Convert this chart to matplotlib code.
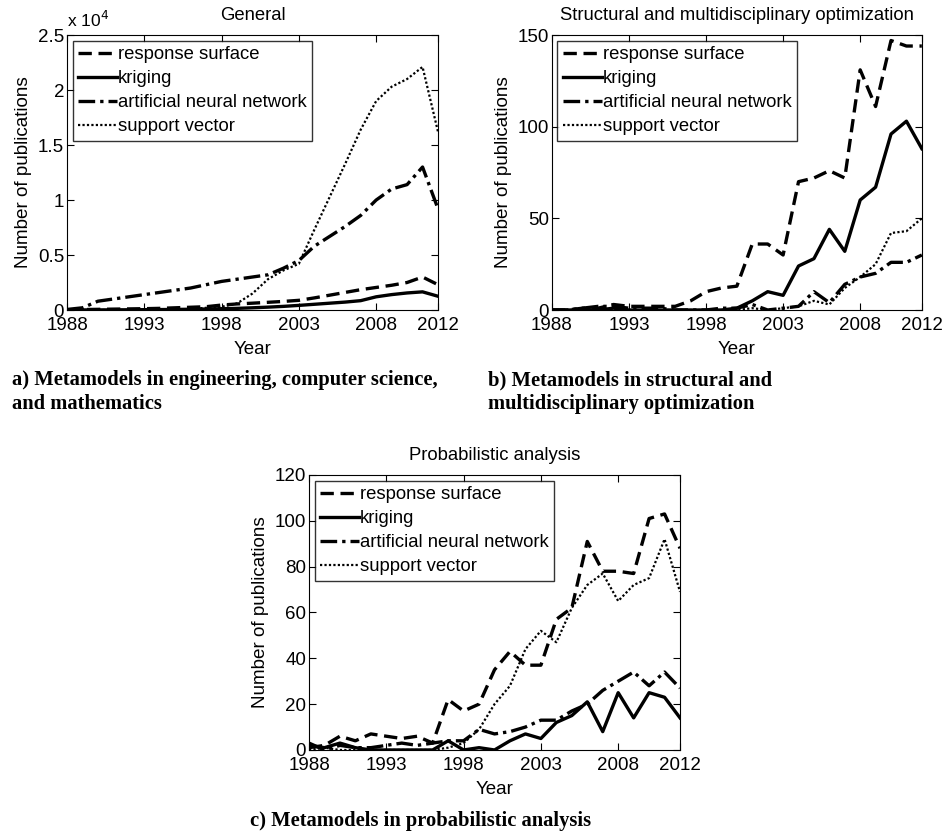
import matplotlib
matplotlib.use('Agg')
import matplotlib.pyplot as plt
from matplotlib.ticker import FuncFormatter

plt.rcParams['font.family'] = ['Liberation Sans', 'DejaVu Sans']

years = list(range(1988, 2013))
series_names = ['response surface', 'kriging', 'artificial neural network', 'support vector']

# a) general (counts)
gen_rs = [20, 40, 60, 80, 100, 120, 150, 200, 250, 300, 450, 550, 620, 700, 780, 880,
          1100, 1350, 1600, 1850, 2050, 2250, 2500, 3000, 2300]
gen_kr = [0, 5, 10, 15, 20, 30, 40, 50, 70, 90, 120, 150, 200, 260, 330, 420,
          520, 620, 720, 850, 1200, 1400, 1550, 1650, 1250]
gen_ann = [50, 200, 800, 1000, 1200, 1400, 1600, 1800, 2000, 2300, 2600, 2800, 3000, 3200,
           3800, 4500, 5800, 6700, 7600, 8600, 10000, 11000, 11400, 13000, 9200]
gen_sv = [0, 0, 0, 0, 0, 0, 0, 50, 100, 200, 300, 600, 1500, 2800, 3600, 4200,
          7300, 10300, 13300, 16400, 19000, 20300, 21000, 22100, 16200]

# b) structural and multidisciplinary optimization
smo_rs = [0, 0, 1, 1, 3, 2, 2, 2, 2, 5, 10, 12, 13, 36, 36, 30,
          70, 72, 76, 72, 131, 111, 147, 144, 144]
smo_kr = [0, 0, 0, 0, 1, 0, 0, 0, 0, 0, 0, 0, 1, 5, 10, 8,
          24, 28, 44, 32, 60, 67, 96, 103, 88]
smo_ann = [0, 0, 1, 2, 2, 1, 1, 1, 0, 0, 0, 1, 1, 3, 0, 1,
           2, 10, 4, 14, 18, 20, 26, 26, 30]
smo_sv = [0, 0, 0, 0, 1, 0, 0, 0, 0, 0, 0, 0, 0, 1, 0, 1,
          2, 5, 3, 12, 18, 25, 42, 43, 50]

# c) probabilistic analysis
pa_rs = [1, 2, 6, 4, 7, 6, 5, 6, 3, 22, 17, 20, 35, 43, 37, 37,
         57, 62, 91, 78, 78, 77, 101, 103, 88]
pa_kr = [2, 1, 3, 1, 0, 0, 0, 0, 0, 4, 0, 1, 0, 4, 7, 5,
         12, 15, 21, 8, 25, 14, 25, 23, 14]
pa_ann = [3, 0, 2, 1, 1, 2, 3, 2, 3, 4, 4, 9, 7, 8, 10, 13,
          13, 17, 20, 26, 30, 34, 28, 34, 27]
pa_sv = [0, 1, 0, 0, 0, 0, 0, 0, 0, 1, 3, 9, 20, 28, 44, 52,
         47, 62, 72, 77, 65, 72, 75, 92, 69]

xticks = [1988, 1993, 1998, 2003, 2008, 2012]

styles = [dict(ls=(0, (4, 2)), lw=2.4), dict(ls='-', lw=2.4),
          dict(ls=(0, (5, 1.5, 1, 1.5)), lw=2.4), dict(ls=(0, (1, 1)), lw=1.6)]


def draw(ax, data, title, ymax, yticks):
    for vals, name, st in zip(data, series_names, styles):
        ax.plot(years, vals, color='black', label=name, **st)
    ax.set_xlim(1988, 2012)
    ax.set_ylim(0, ymax)
    ax.set_xticks(xticks)
    ax.set_yticks(yticks)
    ax.tick_params(direction='in', top=True, right=True, labelsize=13.5, length=5)
    ax.tick_params(axis='x', pad=5)
    ax.tick_params(axis='y', pad=2)
    ax.set_title(title, fontsize=13.3, pad=11)
    ax.set_xlabel('Year', fontsize=13.5, labelpad=5)
    ax.set_ylabel('Number of publications', fontsize=13.6, labelpad=4)
    leg = ax.legend(loc='upper left', fontsize=13.3, frameon=True, fancybox=False,
                    edgecolor='black', borderaxespad=0.3, handlelength=2.1,
                    handletextpad=0.05, labelspacing=0.38, borderpad=0.3)
    leg.get_frame().set_linewidth(1.0)
    for s in ax.spines.values():
        s.set_linewidth(0.8)


fig = plt.figure(figsize=(9.45, 8.32), dpi=100)
ax1 = fig.add_axes([0.0709, 0.6274, 0.3926, 0.3305])
ax2 = fig.add_axes([0.584, 0.6274, 0.3915, 0.3305])
ax3 = fig.add_axes([0.327, 0.0986, 0.3926, 0.3305])

draw(ax1, [gen_rs, gen_kr, gen_ann, gen_sv], 'General', 25000,
     [0, 5000, 10000, 15000, 20000, 25000])
ax1.yaxis.set_major_formatter(FuncFormatter(lambda v, p: '%g' % (v / 1e4)))
ax1.text(0.0, 1.02, 'x 10$^{4}$', transform=ax1.transAxes, fontsize=12.5,
         ha='left', va='bottom')

draw(ax2, [smo_rs, smo_kr, smo_ann, smo_sv], 'Structural and multidisciplinary optimization',
     150, [0, 50, 100, 150])
draw(ax3, [pa_rs, pa_kr, pa_ann, pa_sv], 'Probabilistic analysis', 120,
     [0, 20, 40, 60, 80, 100, 120])

cap = dict(fontsize=14.8, fontweight='bold', family=['Liberation Serif', 'DejaVu Serif'],
           ha='left', va='top', linespacing=1.27)
fig.text(12 / 945, 1 - 370 / 832, 'a) Metamodels in engineering, computer science,\nand mathematics', **cap)
fig.text(488 / 945, 1 - 370 / 832, 'b) Metamodels in structural and\nmultidisciplinary optimization', **cap)
fig.text(250 / 945, 1 - 811 / 832, 'c) Metamodels in probabilistic analysis', **cap)

fig.savefig('out.png', dpi=100)
